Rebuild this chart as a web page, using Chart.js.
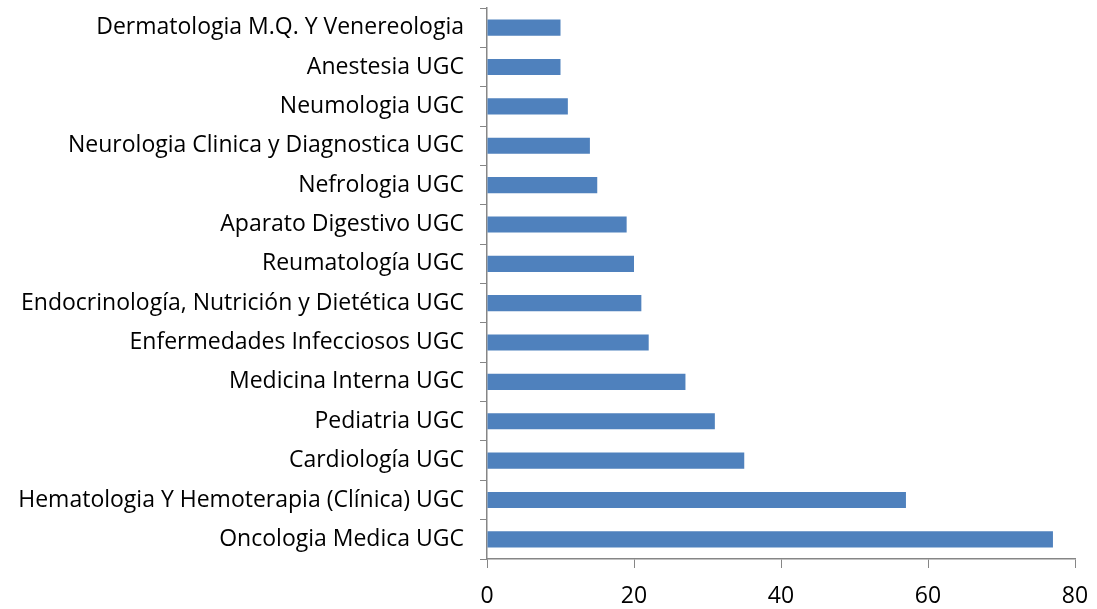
<!DOCTYPE html>
<html>
<head>
<meta charset="utf-8">
<script src="https://cdn.jsdelivr.net/npm/chart.js@4"></script>
<style>
  html, body { margin: 0; padding: 0; background: #fff; }
  #wrap { width: 1097px; height: 609px; }
</style>
</head>
<body>
<div id="wrap"><canvas id="servicesChart" width="1097" height="609"></canvas></div>
<script>
// categories, top to bottom
const services = [
	"Dermatologia M.Q. Y Venereologia",
	"Anestesia UGC",
	"Neumologia UGC",
	"Neurologia Clinica y Diagnostica UGC",
	"Nefrologia UGC",
	"Aparato Digestivo UGC",
	"Reumatología UGC",
	"Endocrinología, Nutrición y Dietética UGC",
	"Enfermedades Infecciosos UGC",
	"Medicina Interna UGC",
	"Pediatria UGC",
	"Cardiología UGC",
	"Hematologia Y Hemoterapia (Clínica) UGC",
	"Oncologia Medica UGC",
];
const counts = [10, 10, 11, 14, 15, 19, 20, 21, 22, 27, 31, 35, 57, 77];
const xTicks = [0, 20, 40, 60, 80];

const axisColor = "#868686";
const font = { family: "'Open Sans', Lato, sans-serif", size: 23 };

new Chart(document.getElementById("servicesChart"), {
	type: "bar",
	data: {
		labels: services,
		datasets: [
			{
				data: counts,
				backgroundColor: "#4f81bd",
				barPercentage: 0.41,
				categoryPercentage: 1,
			},
		],
	},
	options: {
		indexAxis: "y",
		responsive: false,
		animation: false,
		layout: { padding: { top: 8, right: 22, left: 0, bottom: 0 } },
		plugins: {
			legend: { display: false },
			tooltip: { enabled: false },
		},
		scales: {
			x: {
				min: 0,
				max: 80,
				afterBuildTicks: function (axis) {
					axis.ticks = xTicks.map(function (v) { return { value: v }; });
				},
				afterFit: function (axis) {
					axis.height = 50;
					axis.paddingBottom = 0;
					axis.paddingLeft = 0;
					axis.paddingRight = 0;
				},
				grid: {
					drawOnChartArea: false,
					drawTicks: true,
					tickLength: 9,
					color: axisColor,
				},
				border: { color: axisColor, width: 1.5 },
				ticks: { color: "#000", font: font, padding: 15, maxRotation: 0 },
			},
			y: {
				offset: true,
				afterFit: function (axis) {
					axis.width = 487;
					axis.paddingTop = 0;
					axis.paddingBottom = 0;
				},
				grid: {
					offset: true,
					drawOnChartArea: false,
					tickLength: 7,
					color: axisColor,
				},
				border: { color: axisColor, width: 1.5 },
				ticks: { color: "#000", font: font, padding: 16, autoSkip: false },
			},
		},
	},
});
</script>
</body>
</html>
